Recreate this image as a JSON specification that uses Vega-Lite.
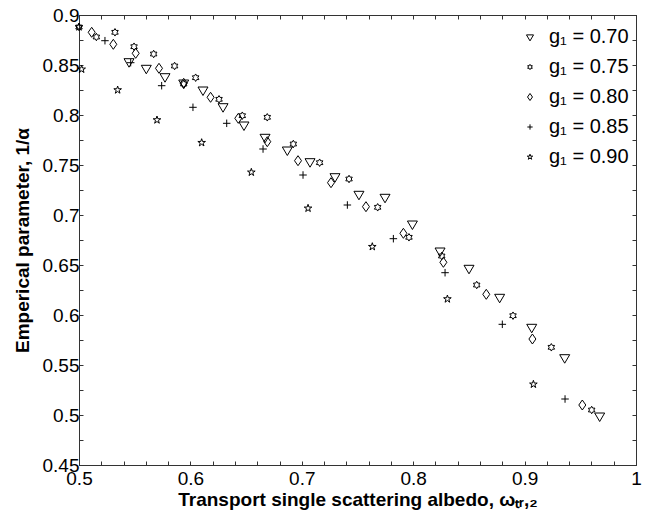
{
  "$schema": "https://vega.github.io/schema/vega-lite/v6.json",
  "width": 557,
  "height": 450,
  "autosize": "none",
  "padding": {"left": 79, "top": 15, "right": 11, "bottom": 58},
  "background": "white",
  "config": {
    "view": {"stroke": "#333333", "strokeWidth": 1},
    "font": "Liberation Sans",
    "axis": {"grid": false, "domainColor": "#333333", "tickColor": "#333333", "labelColor": "black", "titleColor": "black", "labelFont": "Liberation Sans", "titleFont": "Liberation Sans"}
  },
  "data": {"values": [
    {"w": 0.5449, "a": 0.8533, "g": "0.70"},
    {"w": 0.5604, "a": 0.8467, "g": "0.70"},
    {"w": 0.5772, "a": 0.8383, "g": "0.70"},
    {"w": 0.5940, "a": 0.8320, "g": "0.70"},
    {"w": 0.6113, "a": 0.8250, "g": "0.70"},
    {"w": 0.6293, "a": 0.8083, "g": "0.70"},
    {"w": 0.6481, "a": 0.7900, "g": "0.70"},
    {"w": 0.6670, "a": 0.7777, "g": "0.70"},
    {"w": 0.6870, "a": 0.7650, "g": "0.70"},
    {"w": 0.7074, "a": 0.7533, "g": "0.70"},
    {"w": 0.7298, "a": 0.7383, "g": "0.70"},
    {"w": 0.7513, "a": 0.7207, "g": "0.70"},
    {"w": 0.7747, "a": 0.7177, "g": "0.70"},
    {"w": 0.7993, "a": 0.6910, "g": "0.70"},
    {"w": 0.8241, "a": 0.6640, "g": "0.70"},
    {"w": 0.8501, "a": 0.6467, "g": "0.70"},
    {"w": 0.8776, "a": 0.6177, "g": "0.70"},
    {"w": 0.9064, "a": 0.5877, "g": "0.70"},
    {"w": 0.9360, "a": 0.5573, "g": "0.70"},
    {"w": 0.9674, "a": 0.4990, "g": "0.70"},
    {"w": 0.5000, "a": 0.8880, "g": "0.75"},
    {"w": 0.5156, "a": 0.8780, "g": "0.75"},
    {"w": 0.5323, "a": 0.8827, "g": "0.75"},
    {"w": 0.5494, "a": 0.8683, "g": "0.75"},
    {"w": 0.5670, "a": 0.8610, "g": "0.75"},
    {"w": 0.5858, "a": 0.8490, "g": "0.75"},
    {"w": 0.5940, "a": 0.8310, "g": "0.75"},
    {"w": 0.6047, "a": 0.8373, "g": "0.75"},
    {"w": 0.6257, "a": 0.8157, "g": "0.75"},
    {"w": 0.6466, "a": 0.7993, "g": "0.75"},
    {"w": 0.6690, "a": 0.7977, "g": "0.75"},
    {"w": 0.6924, "a": 0.7710, "g": "0.75"},
    {"w": 0.7160, "a": 0.7523, "g": "0.75"},
    {"w": 0.7424, "a": 0.7360, "g": "0.75"},
    {"w": 0.7681, "a": 0.7077, "g": "0.75"},
    {"w": 0.7962, "a": 0.6777, "g": "0.75"},
    {"w": 0.8256, "a": 0.6590, "g": "0.75"},
    {"w": 0.8570, "a": 0.6300, "g": "0.75"},
    {"w": 0.8896, "a": 0.5993, "g": "0.75"},
    {"w": 0.9240, "a": 0.5677, "g": "0.75"},
    {"w": 0.9602, "a": 0.5050, "g": "0.75"},
    {"w": 0.5114, "a": 0.8827, "g": "0.80"},
    {"w": 0.5308, "a": 0.8707, "g": "0.80"},
    {"w": 0.5509, "a": 0.8617, "g": "0.80"},
    {"w": 0.5718, "a": 0.8467, "g": "0.80"},
    {"w": 0.5940, "a": 0.8317, "g": "0.80"},
    {"w": 0.6181, "a": 0.8177, "g": "0.80"},
    {"w": 0.6430, "a": 0.7967, "g": "0.80"},
    {"w": 0.6690, "a": 0.7733, "g": "0.80"},
    {"w": 0.6966, "a": 0.7543, "g": "0.80"},
    {"w": 0.7262, "a": 0.7323, "g": "0.80"},
    {"w": 0.7576, "a": 0.7083, "g": "0.80"},
    {"w": 0.7912, "a": 0.6817, "g": "0.80"},
    {"w": 0.8271, "a": 0.6527, "g": "0.80"},
    {"w": 0.8656, "a": 0.6207, "g": "0.80"},
    {"w": 0.9070, "a": 0.5760, "g": "0.80"},
    {"w": 0.9518, "a": 0.5100, "g": "0.80"},
    {"w": 0.5233, "a": 0.8743, "g": "0.85"},
    {"w": 0.5464, "a": 0.8523, "g": "0.85"},
    {"w": 0.5742, "a": 0.8293, "g": "0.85"},
    {"w": 0.6023, "a": 0.8077, "g": "0.85"},
    {"w": 0.6326, "a": 0.7917, "g": "0.85"},
    {"w": 0.6652, "a": 0.7660, "g": "0.85"},
    {"w": 0.7011, "a": 0.7400, "g": "0.85"},
    {"w": 0.7409, "a": 0.7100, "g": "0.85"},
    {"w": 0.7822, "a": 0.6763, "g": "0.85"},
    {"w": 0.8286, "a": 0.6423, "g": "0.85"},
    {"w": 0.8800, "a": 0.5907, "g": "0.85"},
    {"w": 0.9363, "a": 0.5160, "g": "0.85"},
    {"w": 0.5000, "a": 0.8880, "g": "0.90"},
    {"w": 0.5024, "a": 0.8457, "g": "0.90"},
    {"w": 0.5347, "a": 0.8250, "g": "0.90"},
    {"w": 0.5700, "a": 0.7950, "g": "0.90"},
    {"w": 0.6101, "a": 0.7723, "g": "0.90"},
    {"w": 0.6547, "a": 0.7427, "g": "0.90"},
    {"w": 0.7056, "a": 0.7067, "g": "0.90"},
    {"w": 0.7633, "a": 0.6683, "g": "0.90"},
    {"w": 0.8307, "a": 0.6160, "g": "0.90"},
    {"w": 0.9079, "a": 0.5307, "g": "0.90"}
  ]},
  "layer": [
    {
      "mark": {"type": "point", "opacity": 0},
      "encoding": {
        "x": {"field": "w", "type": "quantitative",
          "scale": {"domain": [0.5, 1], "nice": false, "zero": false},
          "axis": {"orient": "top", "values": [0.5,0.52,0.54,0.56,0.58,0.6,0.62,0.64,0.66,0.68,0.7,0.72,0.74,0.76,0.78,0.8,0.82,0.84,0.86,0.88,0.9,0.92,0.94,0.96,0.98,1], "labels": false, "tickSize": -4, "title": null}},
        "y": {"field": "a", "type": "quantitative",
          "scale": {"domain": [0.45, 0.9], "nice": false, "zero": false},
          "axis": {"orient": "right", "values": [0.45,0.475,0.5,0.525,0.55,0.575,0.6,0.625,0.65,0.675,0.7,0.725,0.75,0.775,0.8,0.825,0.85,0.875,0.9], "labels": false, "tickSize": -4, "title": null}}
      }
    },
    {
      "mark": {"type": "point", "filled": false, "stroke": "black", "strokeWidth": 1, "size": 100, "opacity": 1},
      "encoding": {
        "x": {"field": "w", "type": "quantitative",
          "scale": {"domain": [0.5, 1], "nice": false, "zero": false},
          "axis": {"orient": "bottom",
            "values": [0.5,0.52,0.54,0.56,0.58,0.6,0.62,0.64,0.66,0.68,0.7,0.72,0.74,0.76,0.78,0.8,0.82,0.84,0.86,0.88,0.9,0.92,0.94,0.96,0.98,1],
            "labelExpr": "round(datum.value*100)%10==0 ? format(datum.value,'~g') : ''",
            "tickSize": -4, "labelPadding": 8, "labelFontSize": 19, "labelFlush": false, "labelOverlap": false,
            "title": "Transport single scattering albedo, ωₜᵣ,₂", "titleFontSize": 19, "titleFontWeight": "bold", "titlePadding": 2}},
        "y": {"field": "a", "type": "quantitative",
          "scale": {"domain": [0.45, 0.9], "nice": false, "zero": false},
          "axis": {"orient": "left",
            "values": [0.45,0.475,0.5,0.525,0.55,0.575,0.6,0.625,0.65,0.675,0.7,0.725,0.75,0.775,0.8,0.825,0.85,0.875,0.9],
            "labelExpr": "round(datum.value*1000)%50==0 ? format(datum.value,'~g') : ''",
            "tickSize": -4, "labelPadding": 4, "labelFontSize": 19, "labelFlush": false, "labelOverlap": false,
            "title": "Emperical parameter, 1/α", "titleFontSize": 19, "titleFontWeight": "bold", "titlePadding": 10}},
        "shape": {"field": "g", "type": "nominal",
          "scale": {"domain": ["0.70", "0.75", "0.80", "0.85", "0.90"],
            "range": ["M-1,-0.6L1,-0.6L0,1.1Z",
              "M0,-0.75L0.217,-0.375L0.65,-0.375L0.433,0L0.65,0.375L0.217,0.375L0,0.75L-0.217,0.375L-0.65,0.375L-0.433,0L-0.65,-0.375L-0.217,-0.375Z",
              "M0,-1L0.7,0L0,1L-0.7,0Z",
              "M-0.75,0L0.75,0M0,-0.75L0,0.75",
              "M0,-0.8L0.18,-0.247L0.761,-0.247L0.29,0.094L0.47,0.647L0,0.306L-0.47,0.647L-0.29,0.094L-0.761,-0.247L-0.18,-0.247Z"]},
          "legend": {"orient": "none", "legendX": 441, "legendY": 12, "title": null,
            "labelExpr": "'g₁ = ' + datum.label", "labelFontSize": 20, "labelFont": "Liberation Sans",
            "symbolSize": 50, "symbolStrokeColor": "black", "symbolFillColor": "transparent", "symbolStrokeWidth": 1,
            "rowPadding": 10, "labelOffset": 9}}
      }
    }
  ],
  "resolve": {"axis": {"x": "independent", "y": "independent"}}
}
